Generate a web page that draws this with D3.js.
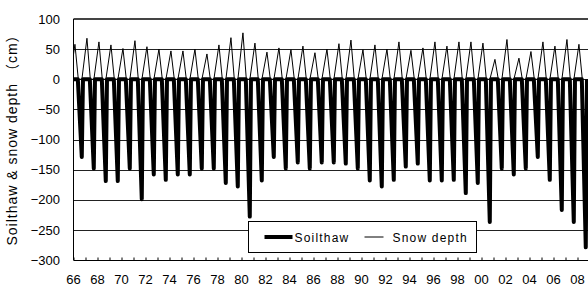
<!DOCTYPE html>
<html>
<head>
<meta charset="utf-8">
<script src="https://cdn.jsdelivr.net/npm/d3@7"></script>
<style>
  html, body { margin: 0; padding: 0; background: #fff; }
  svg { display: block; }
  text { font-family: "Liberation Sans", Arial, "Noto Sans CJK JP", sans-serif; fill: #000; }
</style>
</head>
<body>
<div id="chart"></div>
<script>
///// 1.  DATOS
const YEARS = [1966, 1967, 1968, 1969, 1970, 1971, 1972, 1973, 1974, 1975,
               1976, 1977, 1978, 1979, 1980, 1981, 1982, 1983, 1984, 1985,
               1986, 1987, 1988, 1989, 1990, 1991, 1992, 1993, 1994, 1995,
               1996, 1997, 1998, 1999, 2000, 2001, 2002, 2003, 2004, 2005,
               2006, 2007, 2008];

// máximo de nieve de cada invierno (cm)
const SNOW_PEAK = [58, 68, 62, 57, 51, 64, 54, 50, 47, 47,
                   50, 42, 57, 69, 77, 60, 45, 52, 49, 55,
                   44, 50, 59, 65, 49, 57, 50, 62, 48, 52,
                   62, 55, 62, 62, 60, 33, 66, 35, 46, 62,
                   55, 66, 58];

// profundidad máxima de deshielo de cada verano (cm)
const THAW_MAX = [-129, -148, -169, -169, -148, -199, -158, -167, -158, -158,
                  -148, -148, -172, -178, -228, -168, -129, -148, -138, -148,
                  -138, -138, -140, -148, -168, -178, -167, -145, -140, -168,
                  -168, -167, -189, -172, -237, -148, -158, -148, -129, -167,
                  -217, -237, -279];

// fechas de la estación (fracción de año)
const SNOW_ON = -0.30, SNOW_TOP = 0.12, SNOW_OFF = 0.40;
const THAW_ON = 0.36,  THAW_BOTTOM = 0.69, THAW_OFF = 0.79;

const Y_TICKS = [100, 50, 0, -50, -100, -150, -200, -250, -300];
const X_LABELS = ['66','68','70','72','74','76','78','80','82','84','86',
                  '88','90','92','94','96','98','00','02','04','06','08'];

///// 2.  ESCALAS
const W = 588, H = 287;
const M = { left: 73.5, top: 19, bottom: 260 };

const x = d3.scaleLinear([1966, 2009], [M.left, M.left + 43 * 12]);
const y = d3.scaleLinear([-300, 100], [M.bottom, M.top]);

const svg = d3.select('#chart').append('svg')
              .attr('width', W).attr('height', H)
              .attr('viewBox', [0, 0, W, H]);

svg.append('defs').append('clipPath').attr('id', 'plot-clip')
   .append('rect')
     .attr('x', M.left).attr('y', 0)
     .attr('width', W - M.left).attr('height', M.bottom);

///// 3.  REJILLA y EJES
svg.append('g')
   .selectAll('line')
   .data(Y_TICKS.filter(v => v > -300 && v < 100))
   .join('line')
     .attr('x1', M.left).attr('x2', W)
     .attr('y1', d => Math.round(y(d)) + 0.5)
     .attr('y2', d => Math.round(y(d)) + 0.5)
     .attr('stroke', '#222')
     .attr('stroke-width', 1);

// borde superior
svg.append('line')
   .attr('x1', M.left).attr('x2', W)
   .attr('y1', y(100)).attr('y2', y(100))
   .attr('stroke', '#444').attr('stroke-width', 2);

svg.append('g')
   .selectAll('text')
   .data(Y_TICKS)
   .join('text')
     .attr('x', 60)
     .attr('y', d => y(d))
     .attr('dy', '0.36em')
     .attr('text-anchor', 'end')
     .attr('font-size', 13)
     .text(d => d3.format('d')(d));

///// 4.  SERIES
const snowPts = [];
YEARS.forEach((yr, i) => {
  snowPts.push([yr + SNOW_ON, 0], [yr + SNOW_TOP, SNOW_PEAK[i]], [yr + SNOW_OFF, 0]);
});

const thawPts = [[1966, 0]];
YEARS.forEach((yr, i) => {
  thawPts.push([yr + THAW_ON, 0], [yr + THAW_BOTTOM, THAW_MAX[i]], [yr + THAW_OFF, 0]);
});

const line = d3.line().x(d => x(d[0])).y(d => y(d[1]));

const plot = svg.append('g').attr('clip-path', 'url(#plot-clip)');

plot.append('path')
    .datum(thawPts)
    .attr('d', line)
    .attr('fill', 'none')
    .attr('stroke', '#000')
    .attr('stroke-width', 4)
    .attr('stroke-linejoin', 'round');

plot.append('path')
    .datum(snowPts)
    .attr('d', line)
    .attr('fill', 'none')
    .attr('stroke', '#000')
    .attr('stroke-width', 1);

// ejes encima de las series
svg.append('line')
   .attr('x1', M.left).attr('x2', M.left)
   .attr('y1', M.top).attr('y2', M.bottom)
   .attr('stroke', '#000');

const xAxis = d3.axisBottom(x)
                .tickValues(d3.range(1966, 2009))
                .tickSize(-3)
                .tickFormat('');

svg.append('g')
   .attr('transform', `translate(0,${M.bottom + 0.5})`)
   .call(xAxis)
   .call(g => g.select('.domain').attr('d', `M${M.left},0H${W}`))
   .call(g => g.selectAll('.tick line').attr('stroke', '#000'));

svg.append('g')
   .selectAll('text')
   .data(X_LABELS)
   .join('text')
     .attr('x', (d, i) => x(1966 + 2 * i))
     .attr('y', 284)
     .attr('text-anchor', 'middle')
     .attr('font-size', 13)
     .text(d => d);

///// 5.  LEYENDA
const lg = svg.append('g').attr('transform', 'translate(248.5,221.5)');
lg.append('rect')
  .attr('width', 228).attr('height', 31)
  .attr('fill', '#fff').attr('stroke', '#000');

lg.append('line')
  .attr('x1', 16).attr('x2', 44).attr('y1', 15.5).attr('y2', 15.5)
  .attr('stroke', '#000').attr('stroke-width', 4);
lg.append('text')
  .attr('x', 46).attr('y', 20)
  .attr('font-size', 12).attr('letter-spacing', 1.2)
  .text('Soilthaw');

lg.append('line')
  .attr('x1', 116).attr('x2', 135).attr('y1', 15.5).attr('y2', 15.5)
  .attr('stroke', '#000').attr('stroke-width', 1);
lg.append('text')
  .attr('x', 144).attr('y', 20)
  .attr('font-size', 12).attr('letter-spacing', 1.2)
  .text('Snow depth');

///// 6.  TÍTULO DEL EJE Y
svg.append('text')
   .attr('transform', 'translate(16.5,136.5) rotate(-90)')
   .attr('text-anchor', 'middle')
   .attr('font-size', 14)
   .attr('letter-spacing', 1)
   .text('Soilthaw & snow depth （cm）');
</script>
</body>
</html>
